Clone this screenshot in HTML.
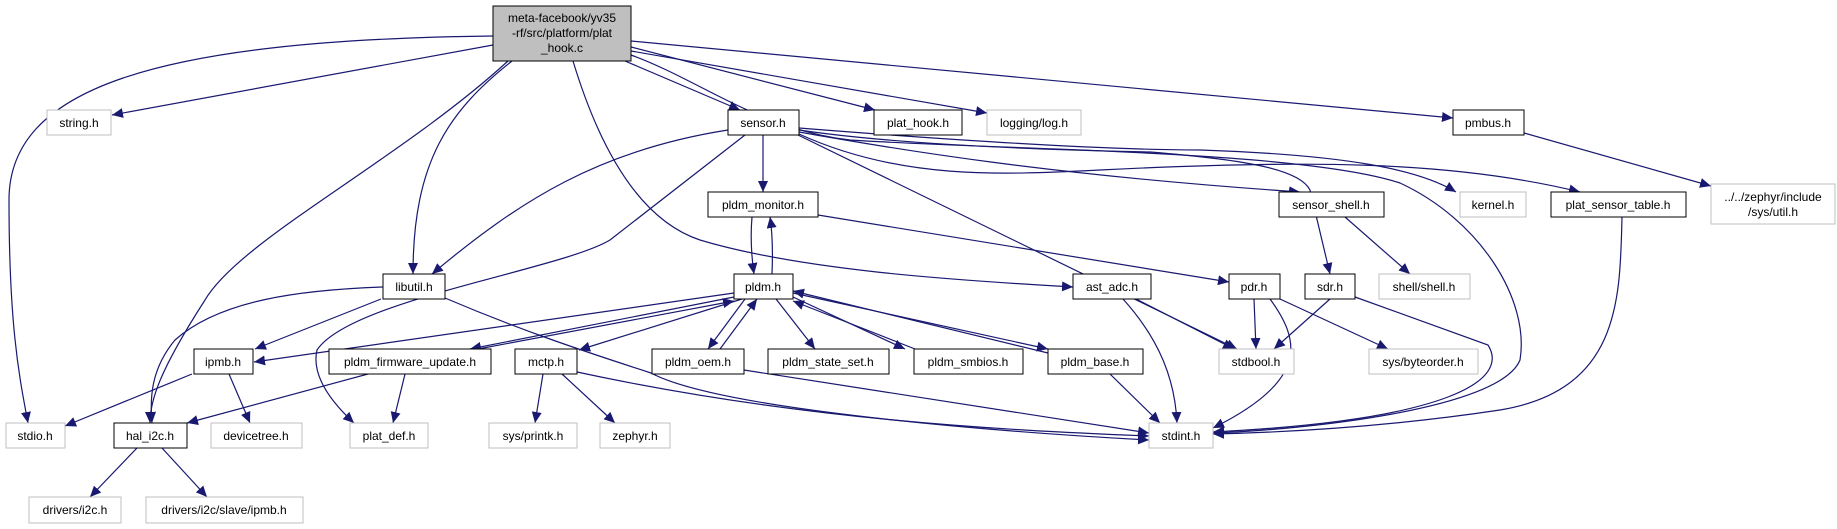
<!DOCTYPE html>
<html><head><meta charset="utf-8"><style>
html,body{margin:0;padding:0;background:#fff;}
svg{display:block;}
text{font-family:"Liberation Sans",sans-serif;font-size:12px;fill:#000;text-anchor:middle;}
.e{fill:none;stroke:#191970;stroke-width:1.2;marker-end:url(#a);}
.n{fill:#fff;stroke:#000;stroke-width:1;}
.g{fill:#fff;stroke:#bfbfbf;stroke-width:1;}
</style></head><body>
<svg width="1837" height="529" viewBox="0 0 1837 529" xmlns="http://www.w3.org/2000/svg">
<defs><marker id="a" markerUnits="userSpaceOnUse" markerWidth="12" markerHeight="10" refX="11" refY="5" orient="auto"><path d="M0,0 L11,5 L0,10 z" fill="#191970"/></marker></defs>
<!-- edges -->
<path class="e" d="M493,36 C150,40 9,90 9,200 C9,330 20,380 28,423"/>
<path class="e" d="M493,45 L112,115"/>
<path class="e" d="M508,61 C400,160 240,240 205,300 C160,370 150,400 150,423"/>
<path class="e" d="M512,61 C450,110 413,160 413,274"/>
<path class="e" d="M573,61 C600,150 640,220 700,240 C800,270 950,280 1073,287"/>
<path class="e" d="M625,61 L740,110"/>
<path class="e" d="M631,47 L875,110"/>
<path class="e" d="M631,51 L987,113"/>
<path class="e" d="M631,41 L1453,118"/>
<path class="e" d="M631,55 C700,80 760,130 850,140 C1000,150 1300,150 1400,183 C1480,220 1530,300 1520,360 C1500,410 1300,430 1213,433"/>
<path class="e" d="M799,130 C900,145 1050,150 1150,152 C1250,160 1300,170 1310,190 L1330,274"/>
<path class="e" d="M799,128 C950,140 1100,150 1200,150 C1350,155 1420,170 1456,192"/>
<path class="e" d="M799,132 C900,150 1050,175 1300,192"/>
<path class="e" d="M799,134 C900,180 1000,175 1100,170 C1300,160 1450,160 1580,192"/>
<path class="e" d="M798,135 L1237,349"/>
<path class="e" d="M728,130 C600,150 520,200 432,274"/>
<path class="e" d="M745,135 L610,240 C560,270 350,300 317,350 C310,380 340,410 354,423"/>
<path class="e" d="M763,135 L763,192"/>
<path class="e" d="M752,217 C750,240 752,260 754,274"/>
<path class="e" d="M772,274 C773,250 772,230 770,217"/>
<path class="e" d="M818,215 L1229,282"/>
<path class="e" d="M1345,217 L1410,274"/>
<path class="e" d="M1524,133 L1711,186"/>
<path class="e" d="M1622,217 C1620,300 1620,390 1500,410 C1400,425 1300,432 1213,434"/>
<path class="e" d="M1355,297 L1488,345 C1510,380 1450,420 1213,432"/>
<path class="e" d="M1330,299 L1274,349"/>
<path class="e" d="M1254,299 L1256,349"/>
<path class="e" d="M1270,299 C1300,340 1310,380 1213,428"/>
<path class="e" d="M1280,299 L1388,349"/>
<path class="e" d="M1136,299 L1234,349"/>
<path class="e" d="M1123,299 C1160,340 1175,380 1177,423"/>
<path class="e" d="M1110,374 L1160,423"/>
<path class="e" d="M744,370 L1149,433"/>
<path class="e" d="M577,372 C800,420 1000,430 1149,436"/>
<path class="e" d="M445,298 C520,330 580,350 651,373 C720,410 1000,432 1149,440"/>
<path class="e" d="M381,299 L255,349"/>
<path class="e" d="M383,287 C300,290 220,300 175,340 C150,370 150,400 152,423"/>
<path class="e" d="M734,293 L254,362"/>
<path class="e" d="M734,297 L470,349"/>
<path class="e" d="M478,349 L734,301"/>
<path class="e" d="M742,299 L579,350"/>
<path class="e" d="M745,299 L708,349"/>
<path class="e" d="M720,349 L757,299"/>
<path class="e" d="M776,299 L815,349"/>
<path class="e" d="M793,297 L905,349"/>
<path class="e" d="M915,349 L793,301"/>
<path class="e" d="M793,293 L1048,349"/>
<path class="e" d="M1048,353 L793,291"/>
<path class="e" d="M368,374 L187,423"/>
<path class="e" d="M405,374 L393,423"/>
<path class="e" d="M192,374 L65,426"/>
<path class="e" d="M229,374 L250,423"/>
<path class="e" d="M543,374 L535,423"/>
<path class="e" d="M562,374 L615,423"/>
<path class="e" d="M137,448 L90,497"/>
<path class="e" d="M162,448 L207,497"/>
<!-- nodes -->
<rect x="493" y="6" width="138" height="55" fill="#bfbfbf" stroke="#000"/>
<text x="562" y="22">meta-facebook/yv35</text><text x="562" y="37">-rf/src/platform/plat</text><text x="562" y="52">_hook.c</text>
<rect class="g" x="47" y="110" width="64" height="25"/><text x="79" y="127">string.h</text>
<rect class="n" x="728" y="110" width="71" height="25"/><text x="763" y="127">sensor.h</text>
<rect class="n" x="874" y="110" width="88" height="25"/><text x="918" y="127">plat_hook.h</text>
<rect class="g" x="987" y="110" width="94" height="25"/><text x="1034" y="127">logging/log.h</text>
<rect class="n" x="1453" y="110" width="71" height="25"/><text x="1488" y="127">pmbus.h</text>
<rect class="n" x="708" y="192" width="110" height="25"/><text x="763" y="209">pldm_monitor.h</text>
<rect class="n" x="1279" y="192" width="105" height="25"/><text x="1331" y="209">sensor_shell.h</text>
<rect class="g" x="1460" y="192" width="66" height="25"/><text x="1493" y="209">kernel.h</text>
<rect class="n" x="1551" y="192" width="135" height="25"/><text x="1618" y="209">plat_sensor_table.h</text>
<rect class="g" x="1711" y="184" width="124" height="40"/><text x="1773" y="201">../../zephyr/include</text><text x="1773" y="216">/sys/util.h</text>
<rect class="n" x="383" y="274" width="62" height="25"/><text x="414" y="291">libutil.h</text>
<rect class="n" x="734" y="274" width="59" height="25"/><text x="763" y="291">pldm.h</text>
<rect class="n" x="1073" y="274" width="78" height="25"/><text x="1112" y="291">ast_adc.h</text>
<rect class="n" x="1229" y="274" width="51" height="25"/><text x="1254" y="291">pdr.h</text>
<rect class="n" x="1305" y="274" width="50" height="25"/><text x="1330" y="291">sdr.h</text>
<rect class="g" x="1379" y="274" width="91" height="25"/><text x="1424" y="291">shell/shell.h</text>
<rect class="n" x="194" y="349" width="59" height="25"/><text x="223" y="366">ipmb.h</text>
<rect class="n" x="329" y="349" width="162" height="25"/><text x="410" y="366">pldm_firmware_update.h</text>
<rect class="n" x="515" y="349" width="62" height="25"/><text x="546" y="366">mctp.h</text>
<rect class="n" x="652" y="349" width="92" height="25"/><text x="698" y="366">pldm_oem.h</text>
<rect class="n" x="768" y="349" width="121" height="25"/><text x="828" y="366">pldm_state_set.h</text>
<rect class="n" x="914" y="349" width="109" height="25"/><text x="968" y="366">pldm_smbios.h</text>
<rect class="n" x="1048" y="349" width="95" height="25"/><text x="1095" y="366">pldm_base.h</text>
<rect class="g" x="1219" y="349" width="75" height="25"/><text x="1256" y="366">stdbool.h</text>
<rect class="g" x="1369" y="349" width="109" height="25"/><text x="1423" y="366">sys/byteorder.h</text>
<rect class="g" x="6" y="423" width="59" height="25"/><text x="35" y="440">stdio.h</text>
<rect class="n" x="114" y="423" width="73" height="25"/><text x="150" y="440">hal_i2c.h</text>
<rect class="g" x="211" y="423" width="91" height="25"/><text x="256" y="440">devicetree.h</text>
<rect class="g" x="350" y="423" width="78" height="25"/><text x="389" y="440">plat_def.h</text>
<rect class="g" x="489" y="423" width="88" height="25"/><text x="533" y="440">sys/printk.h</text>
<rect class="g" x="600" y="423" width="70" height="25"/><text x="635" y="440">zephyr.h</text>
<rect class="g" x="1149" y="423" width="64" height="25"/><text x="1181" y="440">stdint.h</text>
<rect class="g" x="29" y="497" width="92" height="26"/><text x="75" y="514">drivers/i2c.h</text>
<rect class="g" x="146" y="497" width="157" height="26"/><text x="224" y="514">drivers/i2c/slave/ipmb.h</text>
</svg>
</body></html>
